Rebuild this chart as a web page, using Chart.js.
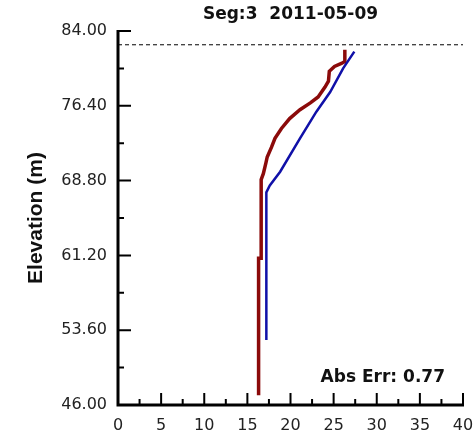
<!DOCTYPE html>
<html>
<head>
<meta charset="utf-8">
<script src="https://cdn.jsdelivr.net/npm/chart.js@4/dist/chart.umd.min.js"></script>
<style>
  html, body { margin: 0; padding: 0; background: #fff; }
  #wrap { width: 473px; height: 437px; }
</style>
</head>
<body>
<div id="wrap"><canvas id="profile" width="473" height="437"></canvas></div>
<script>
// measured profile (red) and simulated profile (blue), temperature vs elevation
const redTemp = [16.3, 16.3, 16.6, 16.6, 16.85, 17.15, 17.3, 17.8, 18.2, 18.95, 19.9, 21.1, 22.3, 23.2, 24.0, 24.4, 24.5, 25.1, 25.9, 26.3, 26.3];
const redElev = [47.0, 60.9, 60.9, 68.9, 69.5, 70.6, 71.2, 72.2, 73.1, 74.1, 75.1, 76.0, 76.7, 77.3, 78.3, 78.9, 79.9, 80.4, 80.7, 80.9, 82.1];

const blueTemp = [17.2, 17.2, 17.6, 18.8, 21.1, 23.0, 24.6, 26.1, 27.4];
const blueElev = [52.6, 67.6, 68.3, 69.7, 73.1, 75.8, 77.8, 80.2, 81.9];

const surfaceTemp = [0, 40];
const surfaceElev = [82.6, 82.6];

const yTicks = [46, 53.6, 61.2, 68.8, 76.4, 84];
const xTicks = [0, 5, 10, 15, 20, 25, 30, 35, 40];

const titleText = 'Seg:3  2011-05-09';
const errText = 'Abs Err: 0.77';
const yTitle = 'Elevation (m)';

function toPoints(xs, ys) {
    return xs.map((x, i) => ({ x: x, y: ys[i] }));
}

const frame = {
    id: 'frame',
    afterDraw(chart) {
        const c = chart.ctx;
        const area = chart.chartArea;
        const xs = chart.scales.x;
        const ys = chart.scales.y;
        c.save();
        c.strokeStyle = '#000';

        // axis lines
        c.lineWidth = 3;
        c.beginPath();
        c.moveTo(area.left, area.top - 1);
        c.lineTo(area.left, area.bottom);
        c.lineTo(area.right + 1, area.bottom);
        c.stroke();

        // inward ticks
        c.lineWidth = 2;
        c.beginPath();
        yTicks.forEach((v, i) => {
            const py = ys.getPixelForValue(v);
            c.moveTo(area.left, py);
            c.lineTo(area.left + 13, py);
            if (i < yTicks.length - 1) {
                const my = ys.getPixelForValue((v + yTicks[i + 1]) / 2);
                c.moveTo(area.left, my);
                c.lineTo(area.left + 6, my);
            }
        });
        xTicks.forEach((v, i) => {
            const px = xs.getPixelForValue(v);
            c.moveTo(px, area.bottom);
            c.lineTo(px, area.bottom - 12);
            if (i < xTicks.length - 1) {
                const mx = xs.getPixelForValue((v + xTicks[i + 1]) / 2);
                c.moveTo(mx, area.bottom);
                c.lineTo(mx, area.bottom - 6);
            }
        });
        c.stroke();

        // texts
        c.fillStyle = '#111';
        c.textBaseline = 'middle';
        c.font = 'bold 17px "DejaVu Sans"';
        c.textAlign = 'center';
        c.fillText(titleText, (area.left + area.right) / 2, 15);
        c.textAlign = 'right';
        c.fillText(errText, 445, 378);

        c.translate(36, (area.top + area.bottom) / 2);
        c.rotate(-Math.PI / 2);
        c.textAlign = 'center';
        c.font = 'bold 21px "Liberation Sans"';
        c.fillText(yTitle, 0, 0);
        c.restore();
    }
};

new Chart(document.getElementById('profile'), {
    type: 'line',
    data: {
        datasets: [
            {
                data: toPoints(surfaceTemp, surfaceElev),
                borderColor: '#000',
                borderWidth: 1,
                borderDash: [4, 3],
                pointRadius: 0
            },
            {
                data: toPoints(blueTemp, blueElev),
                borderColor: '#1010a8',
                borderWidth: 2.5,
                pointRadius: 0,
                tension: 0
            },
            {
                data: toPoints(redTemp, redElev),
                borderColor: '#8b0a0a',
                borderWidth: 3.5,
                pointRadius: 0,
                tension: 0
            }
        ]
    },
    options: {
        responsive: false,
        animation: false,
        layout: { padding: { top: 31, right: 10, left: 0, bottom: 0 } },
        plugins: {
            legend: { display: false },
            tooltip: { enabled: false }
        },
        scales: {
            x: {
                type: 'linear',
                min: 0,
                max: 40,
                grid: { display: false, drawTicks: false },
                border: { display: false },
                afterBuildTicks: (scale) => { scale.ticks = xTicks.map(v => ({ value: v })); },
                afterFit: (scale) => {
                    scale.height = 32;
                    scale.paddingLeft = 0;
                    scale.paddingRight = 0;
                },
                ticks: {
                    padding: 11,
                    maxRotation: 0,
                    autoSkip: false,
                    color: '#222',
                    font: { family: 'DejaVu Sans', size: 16 },
                    callback: (v) => String(v)
                }
            },
            y: {
                type: 'linear',
                min: 46,
                max: 84,
                grid: { display: false, drawTicks: false },
                border: { display: false },
                afterBuildTicks: (scale) => { scale.ticks = yTicks.map(v => ({ value: v })); },
                afterFit: (scale) => {
                    scale.width = 118;
                    scale.paddingTop = 0;
                    scale.paddingBottom = 0;
                },
                ticks: {
                    padding: 11,
                    autoSkip: false,
                    color: '#222',
                    font: { family: 'DejaVu Sans', size: 16 },
                    callback: (v) => Number(v).toFixed(2)
                }
            }
        }
    },
    plugins: [frame]
});
</script>
</body>
</html>
